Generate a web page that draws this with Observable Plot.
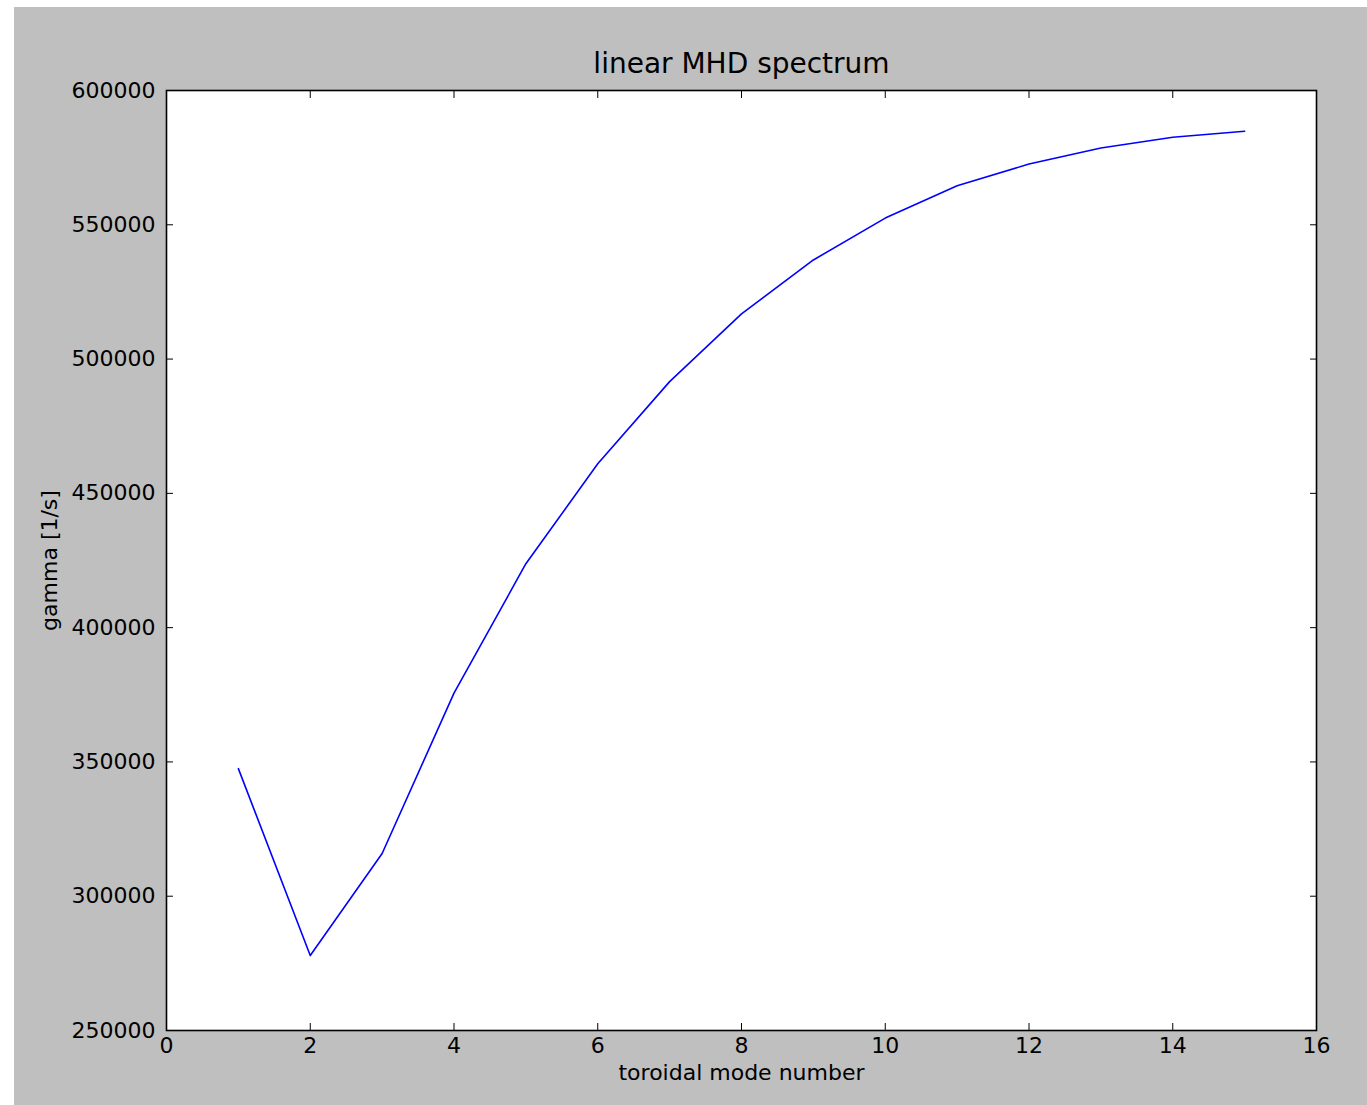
<!DOCTYPE html>
<html>
<head>
<meta charset="utf-8">
<script src="https://cdn.jsdelivr.net/npm/d3@7"></script>
<script src="https://cdn.jsdelivr.net/npm/@observablehq/plot@0.6"></script>
<style>
  html, body { margin: 0; padding: 0; background: #ffffff; }
  #wrap { padding: 7px 0 0 14px; }
</style>
</head>
<body>
<div id="wrap"></div>
<script>
// Data
const modeNumbers = [1, 2, 3, 4, 5, 6, 7, 8, 9, 10, 11, 12, 13, 14, 15];
const gammaValues = [347500, 277900, 315900, 375600, 423800, 461000, 491600, 516800, 536900, 552500, 564500, 572600, 578600, 582600, 584800];
const xTicks = [0, 2, 4, 6, 8, 10, 12, 14, 16];
const yTicks = [250000, 300000, 350000, 400000, 450000, 500000, 550000, 600000];
const titleText = "linear MHD spectrum";
const xLabel = "toroidal mode number";
const yLabel = "gamma [1/s]";

const data = modeNumbers.map((n, i) => ({n, g: gammaValues[i]}));

const chart = Plot.plot({
  width: 1353,
  height: 1098,
  marginLeft: 152,
  marginTop: 83,
  marginRight: 51,
  marginBottom: 75,
  style: {
    fontFamily: "DejaVu Sans",
    fontSize: "22px",
    background: "#bfbfbf",
    color: "#000000",
    overflow: "visible"
  },
  x: {domain: [0, 16], label: null},
  y: {domain: [250000, 600000], label: null},
  marks: [
    Plot.frame({fill: "#ffffff"}),
    Plot.line(data, {x: "n", y: "g", stroke: "#0000ff", strokeWidth: 1.6}),
    Plot.axisX(xTicks, {anchor: "bottom", tickSize: -7, tickPadding: 14, label: null, tickFormat: d => String(d)}),
    Plot.axisX(xTicks, {anchor: "top", tickSize: -7, label: null, tickFormat: () => ""}),
    Plot.axisY(yTicks, {anchor: "left", tickSize: -7, tickPadding: 18, label: null, tickFormat: d => String(d)}),
    Plot.axisY(yTicks, {anchor: "right", tickSize: -7, label: null, tickFormat: () => ""}),
    Plot.frame({stroke: "#000000", strokeWidth: 1.6}),
    Plot.text([titleText], {text: d => d, frameAnchor: "top", textAnchor: "middle", lineAnchor: "middle", dy: -26, fontSize: 28}),
    Plot.text([xLabel], {text: d => d, frameAnchor: "bottom", textAnchor: "middle", lineAnchor: "middle", dy: 42, fontSize: 22}),
    Plot.text([yLabel], {text: d => d, frameAnchor: "left", textAnchor: "middle", lineAnchor: "middle", dx: -117, rotate: -90, fontSize: 22})
  ]
});

document.getElementById("wrap").appendChild(chart);
</script>
</body>
</html>
